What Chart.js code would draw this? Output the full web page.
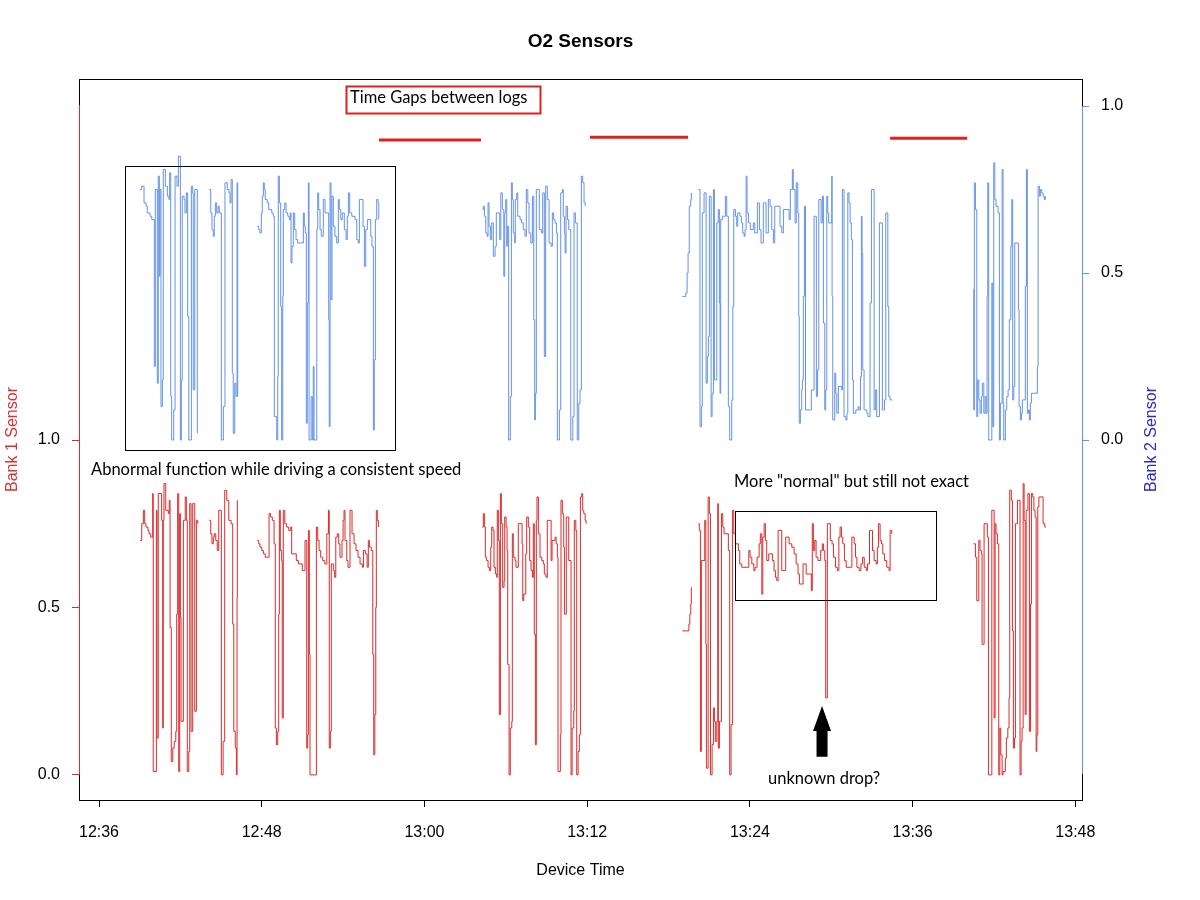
<!DOCTYPE html>
<html>
<head>
<meta charset="utf-8">
<title>O2 Sensors</title>
<script src="https://cdn.jsdelivr.net/npm/chart.js@4.4.1/dist/chart.umd.min.js"></script>
<style>
  html, body { margin: 0; padding: 0; background: #fff; }
</style>
</head>
<body>
<canvas id="o2Chart" width="1200" height="900"></canvas>
<script>
// [minutes after 12:00, sensor volts]; null marks a gap between logs
const bank1Readings = [
  [39.02,0.70],[39.15,0.75],[39.27,0.79],[39.37,0.75],[39.47,0.74],[39.61,0.73],[39.69,0.72],[39.81,0.71],
  [39.96,0.84],[40.00,0.01],[40.23,0.79],[40.28,0.11],[40.37,0.84],[40.62,0.76],[40.70,0.14],[40.74,0.76],
  [40.79,0.87],[40.92,0.79],[41.11,0.78],[41.18,0.82],[41.24,0.44],[41.33,0.04],[41.44,0.08],[41.55,0.10],
  [41.66,0.13],[41.73,0.48],[41.80,0.84],[41.88,0.01],[41.95,0.78],[42.00,0.47],[42.05,0.16],[42.22,0.76],
  [42.36,0.83],[42.44,0.76],[42.51,0.01],[42.62,0.07],[42.69,0.81],[42.79,0.13],[42.91,0.81],[43.06,0.19],
  [43.18,0.76],[43.28,0.75],[43.6,null],
  [44.13,0.76],[44.24,0.72],[44.33,0.69],[44.43,0.71],[44.50,0.72],[44.61,0.70],[44.72,0.67],[44.83,0.79],
  [45.02,0.00],[45.15,0.10],[45.27,0.85],[45.42,0.82],[45.57,0.76],[45.74,0.75],[45.86,0.45],[45.94,0.13],
  [46.05,0.08],[46.13,0.00],[46.18,0.53],[46.20,0.82],[46.9,null],
  [47.67,0.70],[47.78,0.69],[47.87,0.68],[48.00,0.67],[48.12,0.66],[48.26,0.65],[48.54,0.78],[48.66,0.77],
  [48.78,0.76],[48.91,0.69],[49.00,0.14],[49.08,0.09],[49.18,0.13],[49.25,0.48],[49.30,0.79],[49.37,0.67],
  [49.47,0.64],[49.51,0.17],[49.59,0.79],[49.70,0.75],[49.84,0.74],[49.99,0.73],[50.14,0.74],[50.21,0.66],
  [50.55,0.64],[50.70,0.63],[50.99,0.61],[51.19,0.70],[51.32,0.08],[51.39,0.12],[51.44,0.73],[51.51,0.36],
  [51.56,0.00],[52.03,0.74],[52.13,0.70],[52.23,0.67],[52.35,0.65],[52.50,0.64],[52.65,0.63],[52.80,0.72],
  [52.92,0.79],[52.98,0.08],[53.06,0.13],[53.13,0.63],[53.28,0.61],[53.38,0.59],[53.46,0.71],[53.57,0.72],
  [53.68,0.69],[53.77,0.65],[53.92,0.70],[54.00,0.76],[54.07,0.79],[54.14,0.70],[54.27,0.64],[54.36,0.62],
  [54.51,0.79],[54.66,0.72],[54.81,0.69],[54.95,0.67],[55.10,0.65],[55.25,0.63],[55.42,0.62],[55.50,0.67],
  [55.64,0.66],[55.77,0.62],[55.86,0.70],[55.94,0.68],[56.08,0.67],[56.19,0.36],[56.26,0.06],[56.34,0.18],
  [56.41,0.50],[56.45,0.79],[56.52,0.76],[56.60,0.74],[57.0,null],
  [64.27,0.74],[64.34,0.78],[64.42,0.74],[64.49,0.65],[64.59,0.64],[64.69,0.62],[64.79,0.61],[64.89,0.68],
  [64.96,0.74],[65.06,0.73],[65.13,0.62],[65.23,0.60],[65.33,0.59],[65.37,0.79],[65.45,0.70],[65.52,0.18],
  [65.60,0.84],[65.67,0.75],[65.77,0.56],[65.87,0.58],[65.92,0.77],[66.02,0.74],[66.09,0.67],[66.14,0.33],
  [66.24,0.00],[66.33,0.14],[66.44,0.16],[66.48,0.72],[66.55,0.65],[66.68,0.64],[66.75,0.62],[66.92,0.75],
  [67.20,0.69],[67.25,0.52],[67.32,0.54],[67.47,0.66],[67.54,0.77],[67.66,0.74],[67.76,0.64],[67.86,0.61],
  [67.96,0.59],[68.03,0.75],[68.10,0.42],[68.18,0.09],[68.25,0.76],[68.30,0.83],[68.40,0.72],[68.52,0.65],
  [68.65,0.64],[68.77,0.63],[68.84,0.60],[68.96,0.59],[69.06,0.76],[69.34,0.64],[69.41,0.70],[69.63,0.71],
  [69.71,0.69],[69.80,0.65],[69.85,0.01],[70.02,0.12],[70.07,0.82],[70.17,0.78],[70.27,0.68],[70.32,0.48],
  [70.46,0.77],[70.64,0.64],[70.81,0.00],[70.89,0.14],[71.01,0.19],[71.05,0.76],[71.16,0.73],[71.23,0.00],
  [71.33,0.07],[71.42,0.12],[71.50,0.83],[71.60,0.84],[71.67,0.79],[71.75,0.78],[71.85,0.76],[71.92,0.75],
  [72.2,null],
  [79.02,0.43],[79.50,0.45],[79.57,0.48],[79.64,0.51],[79.68,0.56],[79.9,null],
  [80.20,0.75],[80.27,0.73],[80.35,0.07],[80.42,0.64],[80.67,0.76],[80.75,0.39],[80.79,0.02],[80.92,0.83],
  [81.01,0.78],[81.09,0.00],[81.21,0.09],[81.31,0.20],[81.38,0.16],[81.45,0.10],[81.56,0.16],[81.63,0.81],
  [81.67,0.08],[81.75,0.16],[81.90,0.78],[82.00,0.74],[82.09,0.72],[82.41,0.67],[82.51,0.00],[82.61,0.15],
  [82.71,0.79],[82.81,0.72],[82.93,0.69],[83.15,0.67],[83.25,0.63],[83.40,0.62],[83.92,0.67],[84.01,0.65],
  [84.14,0.63],[84.29,0.61],[84.38,0.62],[84.53,0.65],[84.68,0.69],[84.77,0.72],[84.88,0.54],[84.95,0.71],
  [85.05,0.75],[85.14,0.70],[85.24,0.64],[85.39,0.66],[85.66,0.64],[85.78,0.61],[85.88,0.59],[85.98,0.58],
  [86.08,0.73],[86.35,0.61],[86.64,0.71],[86.89,0.69],[87.09,0.68],[87.26,0.66],[87.41,0.63],[87.55,0.60],
  [87.65,0.57],[87.92,0.63],[88.15,0.60],[88.53,0.55],[88.60,0.75],[88.68,0.67],[88.78,0.70],[88.88,0.65],
  [89.02,0.64],[89.22,0.67],[89.34,0.69],[89.42,0.67],[89.52,0.64],[89.59,0.23],[89.71,0.75],[89.93,0.70],
  [90.06,0.69],[90.16,0.65],[90.31,0.62],[90.45,0.61],[90.56,0.71],[90.65,0.74],[90.75,0.71],[90.85,0.69],
  [90.97,0.64],[91.10,0.62],[91.52,0.71],[91.69,0.69],[91.79,0.65],[91.89,0.62],[92.06,0.61],[92.19,0.63],
  [92.31,0.65],[92.43,0.62],[92.58,0.61],[92.67,0.63],[92.82,0.73],[93.04,0.67],[93.16,0.64],[93.31,0.63],
  [93.40,0.68],[93.48,0.75],[93.60,0.70],[93.70,0.69],[93.80,0.66],[93.92,0.64],[94.09,0.62],[94.26,0.61],
  [94.34,0.73],[94.46,0.72],[95.0,null],
  [100.48,0.69],[100.63,0.65],[100.73,0.52],[100.88,0.70],[100.97,0.67],[101.07,0.66],[101.12,0.39],[101.27,0.75],
  [101.51,0.71],[101.59,0.00],[101.84,0.79],[102.01,0.17],[102.08,0.75],[102.15,0.72],[102.25,0.69],[102.35,0.00],
  [102.43,0.14],[102.50,0.06],[102.60,0.00],[102.67,0.01],[102.84,0.05],[102.91,0.11],[103.02,0.14],[103.11,0.23],
  [103.16,0.85],[103.28,0.82],[103.36,0.43],[103.43,0.08],[103.51,0.11],[103.58,0.75],[103.73,0.82],[103.92,0.00],
  [104.00,0.10],[104.07,0.14],[104.15,0.87],[104.22,0.76],[104.30,0.18],[104.37,0.79],[104.50,0.84],[104.61,0.13],
  [104.69,0.51],[104.76,0.84],[104.86,0.83],[104.94,0.79],[105.03,0.77],[105.11,0.07],[105.16,0.12],[105.23,0.80],
  [105.31,0.83],[105.62,0.75],[105.75,0.74],[105.83,0.74],
];

const bank2Readings = [
  [39.02,0.75],[39.15,0.76],[39.32,0.71],[39.47,0.70],[39.56,0.68],[39.76,0.67],[39.89,0.66],[40.08,0.22],
  [40.15,0.75],[40.30,0.17],[40.37,0.79],[40.45,0.49],[40.50,0.75],[40.57,0.10],[40.67,0.18],[40.74,0.81],
  [40.89,0.76],[41.04,0.73],[41.16,0.72],[41.21,0.80],[41.29,0.13],[41.36,0.00],[41.51,0.09],[41.61,0.79],
  [41.75,0.76],[41.85,0.85],[42.00,0.00],[42.07,0.18],[42.14,0.73],[42.27,0.72],[42.34,0.68],[42.44,0.74],
  [42.54,0.37],[42.62,0.00],[42.81,0.76],[42.91,0.74],[42.95,0.15],[43.06,0.75],[43.25,0.02],[43.6,null],
  [44.13,0.75],[44.24,0.68],[44.33,0.63],[44.43,0.61],[44.50,0.67],[44.58,0.71],[44.68,0.68],[44.78,0.70],
  [44.87,0.68],[45.02,0.00],[45.17,0.10],[45.29,0.77],[45.46,0.75],[45.59,0.74],[45.66,0.71],[45.74,0.78],
  [45.83,0.20],[45.90,0.02],[46.01,0.17],[46.10,0.13],[46.18,0.77],[46.23,0.13],[46.9,null],
  [47.67,0.64],[47.78,0.63],[47.87,0.62],[47.97,0.68],[48.04,0.73],[48.12,0.77],[48.19,0.75],[48.26,0.72],
  [48.41,0.71],[48.52,0.69],[48.74,0.68],[48.85,0.67],[48.93,0.07],[49.11,0.00],[49.18,0.19],[49.22,0.79],
  [49.30,0.71],[49.40,0.40],[49.47,0.00],[49.55,0.43],[49.59,0.69],[49.70,0.71],[49.79,0.68],[49.92,0.67],
  [50.03,0.66],[50.11,0.68],[50.16,0.53],[50.23,0.58],[50.33,0.68],[50.43,0.63],[50.53,0.60],[50.65,0.59],
  [51.07,0.68],[51.14,0.64],[51.21,0.62],[51.29,0.05],[51.36,0.41],[51.44,0.77],[51.49,0.00],[51.64,0.13],
  [51.73,0.00],[51.80,0.22],[51.86,0.00],[52.06,0.63],[52.13,0.74],[52.20,0.69],[52.30,0.63],[52.39,0.61],
  [52.54,0.72],[52.67,0.68],[52.94,0.36],[52.98,0.04],[53.04,0.77],[53.11,0.42],[53.18,0.73],[53.28,0.64],
  [53.40,0.61],[53.53,0.59],[53.65,0.72],[53.72,0.69],[53.83,0.66],[53.94,0.68],[54.09,0.63],[54.22,0.60],
  [54.31,0.67],[54.39,0.74],[54.49,0.68],[54.64,0.67],[54.88,0.66],[55.01,0.60],[55.12,0.59],[55.20,0.72],
  [55.47,0.64],[55.57,0.52],[55.67,0.63],[55.79,0.66],[56.04,0.61],[56.13,0.58],[56.23,0.03],[56.30,0.24],
  [56.38,0.66],[56.48,0.72],[56.58,0.71],[56.63,0.66],[57.0,null],
  [64.27,0.69],[64.34,0.70],[64.42,0.67],[64.52,0.62],[64.62,0.61],[64.69,0.71],[64.76,0.64],[64.86,0.60],
  [64.96,0.65],[65.08,0.55],[65.21,0.58],[65.30,0.68],[65.55,0.60],[65.63,0.74],[65.74,0.69],[65.85,0.49],
  [65.92,0.68],[65.99,0.72],[66.07,0.58],[66.11,0.64],[66.21,0.00],[66.33,0.13],[66.41,0.77],[66.48,0.72],
  [66.55,0.62],[66.66,0.59],[66.70,0.72],[66.81,0.74],[66.88,0.67],[67.05,0.66],[67.17,0.65],[67.29,0.63],
  [67.42,0.61],[67.51,0.75],[67.62,0.71],[67.71,0.62],[67.84,0.59],[67.96,0.73],[68.06,0.36],[68.13,0.06],
  [68.18,0.14],[68.25,0.75],[68.47,0.63],[68.62,0.62],[68.72,0.74],[68.84,0.25],[68.94,0.76],[69.06,0.72],
  [69.19,0.59],[69.34,0.58],[69.43,0.68],[69.53,0.66],[69.63,0.65],[69.73,0.62],[69.80,0.00],[69.95,0.09],
  [70.05,0.74],[70.17,0.75],[70.24,0.67],[70.32,0.62],[70.37,0.56],[70.44,0.70],[70.54,0.66],[70.64,0.63],
  [70.79,0.00],[70.94,0.07],[71.03,0.68],[71.13,0.65],[71.27,0.00],[71.38,0.11],[71.47,0.15],[71.57,0.79],
  [71.67,0.77],[71.77,0.71],[71.86,0.70],[72.2,null],
  [79.02,0.43],[79.27,0.44],[79.37,0.50],[79.44,0.56],[79.53,0.70],[79.64,0.72],[79.68,0.74],[79.9,null],
  [80.20,0.75],[80.32,0.04],[80.42,0.10],[80.49,0.68],[80.62,0.74],[80.77,0.17],[80.86,0.25],[80.94,0.31],
  [81.01,0.73],[81.14,0.07],[81.21,0.14],[81.31,0.75],[81.38,0.18],[81.56,0.65],[81.66,0.69],[81.75,0.41],
  [81.80,0.14],[81.85,0.66],[81.97,0.67],[82.19,0.73],[82.29,0.67],[82.41,0.10],[82.51,0.00],[82.66,0.12],
  [82.74,0.40],[82.81,0.69],[82.93,0.67],[83.03,0.64],[83.10,0.68],[83.27,0.67],[83.37,0.65],[83.47,0.62],
  [83.57,0.61],[83.64,0.63],[83.72,0.79],[83.79,0.68],[83.89,0.65],[84.03,0.63],[84.25,0.65],[84.36,0.62],
  [84.55,0.71],[84.70,0.63],[84.82,0.59],[84.99,0.71],[85.19,0.62],[85.36,0.72],[85.49,0.70],[85.61,0.63],
  [85.73,0.59],[85.83,0.70],[86.22,0.64],[86.35,0.62],[86.47,0.69],[86.89,0.66],[86.98,0.75],[87.13,0.81],
  [87.20,0.75],[87.33,0.65],[87.42,0.77],[87.53,0.68],[87.60,0.37],[87.64,0.05],[87.72,0.09],[87.82,0.15],
  [87.87,0.18],[87.94,0.43],[88.02,0.70],[88.10,0.09],[88.53,0.15],[88.73,0.67],[88.90,0.13],[88.99,0.21],
  [89.08,0.72],[89.25,0.65],[89.34,0.73],[89.42,0.35],[89.52,0.09],[89.59,0.15],[89.67,0.73],[89.74,0.68],
  [89.81,0.65],[90.04,0.79],[90.06,0.43],[90.11,0.06],[90.26,0.20],[90.33,0.14],[90.41,0.08],[90.52,0.16],
  [90.77,0.15],[90.82,0.75],[90.94,0.07],[91.07,0.06],[91.16,0.08],[91.22,0.74],[91.31,0.71],[91.39,0.65],
  [91.48,0.60],[91.56,0.18],[91.63,0.08],[91.81,0.09],[91.98,0.10],[92.05,0.09],[92.15,0.19],[92.22,0.67],
  [92.27,0.56],[92.32,0.21],[92.42,0.09],[92.62,0.08],[92.71,0.07],[92.86,0.41],[92.96,0.75],[93.16,0.09],
  [93.25,0.15],[93.35,0.07],[93.55,0.65],[93.77,0.09],[93.92,0.12],[94.02,0.68],[94.17,0.40],[94.24,0.13],
  [94.34,0.12],[94.51,0.12],[95.0,null],
  [100.46,0.45],[100.51,0.09],[100.55,0.77],[100.63,0.69],[100.73,0.07],[100.80,0.18],[100.88,0.12],[100.97,0.08],
  [101.07,0.13],[101.14,0.17],[101.25,0.08],[101.34,0.13],[101.42,0.08],[101.49,0.43],[101.54,0.77],[101.61,0.00],
  [101.84,0.47],[101.91,0.04],[101.98,0.83],[102.06,0.72],[102.15,0.70],[102.30,0.68],[102.40,0.00],[102.47,0.11],
  [102.60,0.81],[102.67,0.11],[102.72,0.00],[102.84,0.09],[102.94,0.13],[103.04,0.15],[103.13,0.36],[103.24,0.58],
  [103.31,0.72],[103.38,0.12],[103.46,0.16],[103.53,0.59],[103.80,0.39],[103.85,0.10],[103.95,0.06],[104.02,0.08],
  [104.09,0.12],[104.31,0.46],[104.39,0.81],[104.46,0.08],[104.54,0.09],[104.61,0.06],[104.68,0.11],[104.76,0.14],
  [105.20,0.22],[105.25,0.76],[105.35,0.73],[105.42,0.75],[105.52,0.74],[105.62,0.73],[105.71,0.72],[105.79,0.73],
];

const timeTicks = [36, 48, 60, 72, 84, 96, 108];
const voltTicks = [0, 0.5, 1.0];

// hand-drawn notes, placed in (minutes, bank 1 volts)
const gapLines = [[56.65, 64.17, 1.896], [72.21, 79.44, 1.904], [94.34, 100.02, 1.901]];
const noteBoxes = [
  { t0: 54.22, t1: 68.52, v0: 1.976, v1: 2.057, red: true },
  { t0: 37.92, t1: 57.83, v0: 0.970, v1: 1.818 },
  { t0: 82.91, t1: 97.73, v0: 0.522, v1: 0.788 },
];
const noteTexts = [
  { text: "Time Gaps between logs", t: 54.51, v: 2.021 },
  { text: "Abnormal function while driving a consistent speed", t: 35.41, v: 0.910 },
  { text: 'More "normal" but still not exact', t: 82.83, v: 0.875 },
  { text: "unknown drop?", t: 85.34, v: -0.012 },
];
const dropArrow = { t: 89.32, tip: 0.206, neck: 0.131, tail: 0.054 };

const bank1Color = "#d92b2b";
const bank2Color = "#6492e6";
const axisFont = "16px 'Liberation Sans', Arial, sans-serif";
const titleFont = "bold 19px 'Liberation Sans', Arial, sans-serif";
const noteFont = "16.5px Lato, 'Open Sans', sans-serif";

Chart.defaults.font.family = "'Liberation Sans', Arial, sans-serif";
Chart.defaults.font.size = 16;
Chart.defaults.color = "#000";

const clock = (m) => {
  const h = 12 + Math.floor(m / 60);
  return h + ":" + String(m % 60).padStart(2, "0");
};

const decor = {
  id: "decor",
  afterDraw(chart) {
    const { ctx, chartArea: a, scales } = chart;
    const px = (t) => scales.x.getPixelForValue(t);
    const py = (v) => scales.y.getPixelForValue(v);
    const midX = (a.left + a.right) / 2;
    const midY = (a.top + a.bottom) / 2;
    ctx.save();

    // plot box
    ctx.strokeStyle = "#000";
    ctx.lineWidth = 1;
    ctx.strokeRect(Math.round(a.left) + 0.5, Math.round(a.top) + 0.5,
      Math.round(a.right - a.left), Math.round(a.bottom - a.top));

    // coloured axis lines, one per sensor
    ctx.strokeStyle = bank1Color;
    ctx.beginPath();
    ctx.moveTo(Math.round(a.left) + 0.5, py(0));
    ctx.lineTo(Math.round(a.left) + 0.5, py(2));
    ctx.stroke();
    ctx.strokeStyle = bank2Color;
    ctx.beginPath();
    ctx.moveTo(Math.round(a.right) + 0.5, scales.y2.getPixelForValue(-1));
    ctx.lineTo(Math.round(a.right) + 0.5, scales.y2.getPixelForValue(1));
    ctx.stroke();

    // title, centred over the plot region
    ctx.textAlign = "center";
    ctx.textBaseline = "middle";
    ctx.fillStyle = "#000";
    ctx.font = titleFont;
    ctx.fillText("O2 Sensors", midX, a.top - 37);

    // axis titles
    ctx.font = axisFont;
    ctx.fillText("Device Time", midX, a.bottom + 71);
    ctx.save();
    ctx.translate(a.left - 66, midY);
    ctx.rotate(-Math.PI / 2);
    ctx.fillStyle = "#d63333";
    ctx.fillText("Bank 1 Sensor", 0, 0);
    ctx.restore();
    ctx.save();
    ctx.translate(a.right + 70, midY);
    ctx.rotate(-Math.PI / 2);
    ctx.fillStyle = "#2a2ac4";
    ctx.fillText("Bank 2 Sensor", 0, 0);
    ctx.restore();

    // time gaps
    ctx.strokeStyle = "#e0201e";
    ctx.lineWidth = 3;
    gapLines.forEach(([t0, t1, v]) => {
      ctx.beginPath();
      ctx.moveTo(px(t0), py(v));
      ctx.lineTo(px(t1), py(v));
      ctx.stroke();
    });

    // boxes
    noteBoxes.forEach((b) => {
      ctx.strokeStyle = b.red ? "#e0201e" : "#000";
      ctx.lineWidth = b.red ? 2 : 1;
      const x0 = Math.round(px(b.t0)) + 0.5, x1 = Math.round(px(b.t1)) + 0.5;
      const y0 = Math.round(py(b.v1)) + 0.5, y1 = Math.round(py(b.v0)) + 0.5;
      ctx.strokeRect(x0, y0, x1 - x0, y1 - y0);
    });

    // notes
    ctx.font = noteFont;
    ctx.fillStyle = "#000";
    ctx.textAlign = "left";
    ctx.textBaseline = "middle";
    noteTexts.forEach((n) => ctx.fillText(n.text, px(n.t), py(n.v)));

    // arrow pointing at the drop
    const ax = px(dropArrow.t);
    ctx.beginPath();
    ctx.moveTo(ax, py(dropArrow.tip));
    ctx.lineTo(ax + 9, py(dropArrow.neck));
    ctx.lineTo(ax + 5.5, py(dropArrow.neck));
    ctx.lineTo(ax + 5.5, py(dropArrow.tail));
    ctx.lineTo(ax - 5.5, py(dropArrow.tail));
    ctx.lineTo(ax - 5.5, py(dropArrow.neck));
    ctx.lineTo(ax - 9, py(dropArrow.neck));
    ctx.closePath();
    ctx.fill();

    ctx.restore();
  },
};

const toPoints = (rows) => rows.map(([t, v]) => ({ x: t, y: v }));

new Chart(document.getElementById("o2Chart"), {
  type: "line",
  data: {
    datasets: [
      {
        label: "Bank 1 Sensor",
        data: toPoints(bank1Readings),
        yAxisID: "y",
        borderColor: bank1Color,
        borderWidth: 1,
        stepped: true,
        pointRadius: 0,
        spanGaps: false,
      },
      {
        label: "Bank 2 Sensor",
        data: toPoints(bank2Readings),
        yAxisID: "y2",
        borderColor: bank2Color,
        borderWidth: 1,
        stepped: true,
        pointRadius: 0,
        spanGaps: false,
      },
    ],
  },
  options: {
    responsive: false,
    animation: false,
    devicePixelRatio: 1,
    layout: { padding: { top: 79 } },
    plugins: {
      legend: { display: false },
      tooltip: { enabled: false },
      title: { display: false },
    },
    scales: {
      x: {
        type: "linear",
        min: 34.525,
        max: 108.49,
        afterBuildTicks: (s) => { s.ticks = timeTicks.map((v) => ({ value: v })); },
        afterFit: (s) => { s.height = 100; },
        ticks: { callback: (v) => clock(v), padding: 16, maxRotation: 0, autoSkip: false },
        grid: { drawOnChartArea: false, tickLength: 7, color: "#000" },
        border: { display: false },
      },
      y: {
        position: "left",
        min: -0.075,
        max: 2.078,
        afterBuildTicks: (s) => { s.ticks = voltTicks.map((v) => ({ value: v })); },
        afterFit: (s) => { s.width = 79; },
        ticks: { callback: (v) => v.toFixed(1), padding: 12 },
        grid: { drawOnChartArea: false, tickLength: 7, color: bank1Color },
        border: { display: false },
      },
      y2: {
        position: "right",
        min: -1.078,
        max: 1.081,
        afterBuildTicks: (s) => { s.ticks = voltTicks.map((v) => ({ value: v })); },
        afterFit: (s) => { s.width = 118; },
        ticks: { callback: (v) => v.toFixed(1), padding: 12 },
        grid: { drawOnChartArea: false, tickLength: 7, color: bank2Color },
        border: { display: false },
      },
    },
  },
  plugins: [decor],
});
</script>
</body>
</html>
